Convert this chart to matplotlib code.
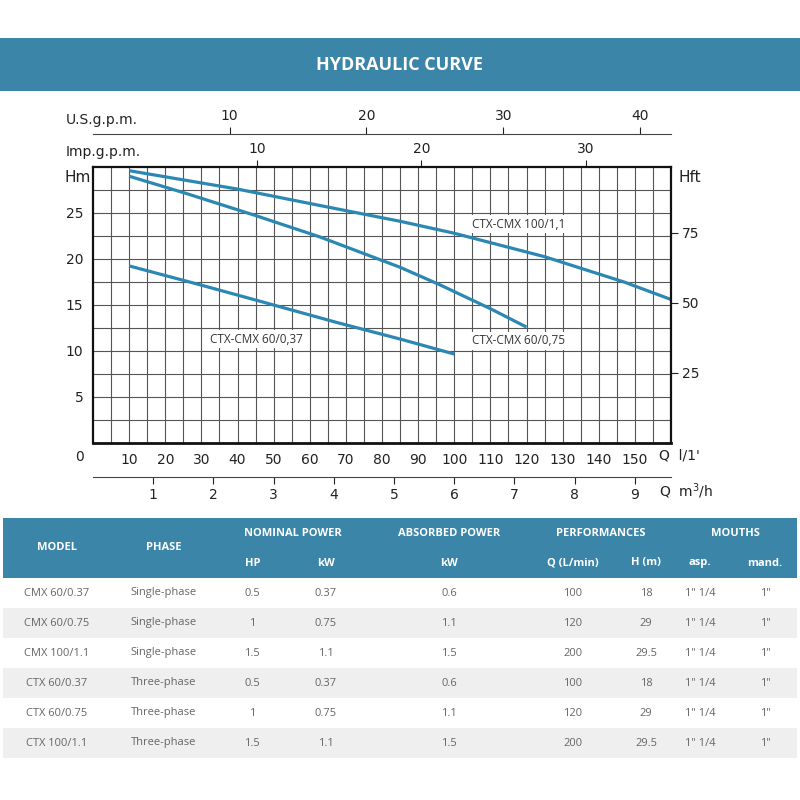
import numpy as np
import matplotlib
matplotlib.use("Agg")
import matplotlib.pyplot as plt
from matplotlib.patches import Rectangle

# curve data (Q in l/min, H in m)
q_100 = [10, 40, 63, 85, 100, 125, 147, 160]
h_100 = [29.6, 27.6, 25.8, 24.1, 22.8, 20.25, 17.5, 15.6]
q_075 = [10, 26, 44.4, 62.8, 85, 96, 110, 120]
h_075 = [29.0, 27.1, 24.8, 22.4, 19.1, 17.2, 14.6, 12.6]
q_037 = [10, 29.6, 50, 67.5, 85, 100]
h_037 = [19.25, 17.2, 15.0, 13.1, 11.3, 9.67]

# table
models = ["CMX 60/0.37", "CMX 60/0.75", "CMX 100/1.1", "CTX 60/0.37", "CTX 60/0.75", "CTX 100/1.1"]
phases = ["Single-phase"] * 3 + ["Three-phase"] * 3
hp = ["0.5", "1", "1.5", "0.5", "1", "1.5"]
kw_nom = ["0.37", "0.75", "1.1", "0.37", "0.75", "1.1"]
kw_abs = ["0.6", "1.1", "1.5", "0.6", "1.1", "1.5"]
q_perf = ["100", "120", "200", "100", "120", "200"]
h_perf = ["18", "29", "29.5", "18", "29", "29.5"]
asp = ['1" 1/4'] * 6
mand = ['1"'] * 6

BLUE = "#3b85a8"
CURVE = "#2b88b3"
W, H = 800, 800

fig = plt.figure(figsize=(8, 8), dpi=100)
fig.patch.set_facecolor("white")


def fx(px):
    return px / W


def fy(py):
    return 1 - py / H


# banner
fig.patches.append(Rectangle((0, fy(91)), 1, (91 - 38) / H, transform=fig.transFigure,
                             facecolor=BLUE, edgecolor="none"))
fig.text(0.5, fy(65), "HYDRAULIC CURVE", color="white", fontsize=13, fontweight="bold",
         family="Open Sans", ha="center", va="center")

# main chart
L, R, T, B = 93, 671, 167, 443
ax = fig.add_axes([fx(L), fy(B), (R - L) / W, (B - T) / H])
for q, h in ((q_100, h_100), (q_075, h_075), (q_037, h_037)):
    ax.plot(q, h, color=CURVE, lw=2.3, solid_capstyle="butt", solid_joinstyle="round", zorder=3)
ax.set_xlim(0, 160)
ax.set_ylim(0, 30)
ax.set_xticks(np.arange(10, 151, 10))
ax.set_xticks(np.arange(5, 160, 5), minor=True)
ax.set_yticks(np.arange(5, 26, 5))
ax.set_yticks(np.arange(2.5, 30, 2.5), minor=True)
ax.grid(True, which="both", color="#555555", lw=0.8)
ax.tick_params(which="both", length=0, labelsize=10, pad=7, colors="#222222")
for s in ax.spines.values():
    s.set_linewidth(1.6)
    s.set_color("#111111")
    s.set_zorder(4)
ax.spines["bottom"].set_linewidth(2.0)

bbox = dict(facecolor="white", edgecolor="none", pad=1.5)
lab = dict(fontsize=8.5, color="#333333", va="center", family="Open Sans", bbox=bbox, zorder=5)
ax.text(105, 23.8, "CTX-CMX 100/1,1", **lab)
ax.text(105, 11.1, "CTX-CMX 60/0,75", **lab)
ax.text(32.4, 11.3, "CTX-CMX 60/0,37", **lab)

# secondary scales
imp = ax.secondary_xaxis("top", functions=(lambda q: q / 4.54609, lambda g: g * 4.54609))
imp.set_xticks([10, 20, 30])
us = ax.secondary_xaxis(1.12, functions=(lambda q: q / 3.78541, lambda g: g * 3.78541))
us.set_xticks([10, 20, 30, 40])
m3h = ax.secondary_xaxis(-0.123, functions=(lambda q: q * 0.06, lambda m: m / 0.06))
m3h.set_xticks(range(1, 10))
ft = ax.secondary_yaxis("right", functions=(lambda m: m * 3.28084, lambda f: f / 3.28084))
ft.set_yticks([25, 50, 75])
for sa in (imp, us, m3h, ft):
    sa.tick_params(length=5, width=0.8, labelsize=10, pad=3, colors="#222222")
    for s in sa.spines.values():
        s.set_linewidth(0.8)
        s.set_color("#444444")
imp.spines["top"].set_visible(False)
ft.spines["right"].set_visible(False)

txt = dict(fontsize=10, color="#222222", va="center")
fig.text(fx(66), fy(120), "U.S.g.p.m.", ha="left", **txt)
fig.text(fx(66), fy(152), "Imp.g.p.m.", ha="left", **txt)
fig.text(fx(65), fy(177), "Hm", ha="left", fontsize=11, color="#222222", va="center")
fig.text(fx(679), fy(177), "Hft", ha="left", fontsize=11, color="#222222", va="center")
fig.text(fx(80), fy(457), "0", ha="center", **txt)
fig.text(fx(659), fy(456), "Q  l/1'", ha="left", **txt)
fig.text(fx(659), fy(491), "Q  m$^3$/h", ha="left", **txt)

# table
tx0, tx1 = 3, 797
hy0, hy1 = 518, 578
row_h = 30
fig.patches.append(Rectangle((fx(tx0), fy(hy1)), (tx1 - tx0) / W, (hy1 - hy0) / H,
                             transform=fig.transFigure, facecolor=BLUE, edgecolor="none"))
for i in range(len(models)):
    top = hy1 + i * row_h
    col = "white" if i % 2 == 0 else "#efefef"
    fig.patches.append(Rectangle((fx(tx0), fy(top + row_h)), (tx1 - tx0) / W, row_h / H,
                                 transform=fig.transFigure, facecolor=col, edgecolor="none"))

hdr = dict(color="white", fontsize=8, fontweight="bold", family="Open Sans", ha="center", va="center")
fig.text(fx(57), fy(548), "MODEL", **hdr)
fig.text(fx(164), fy(548), "PHASE", **hdr)
fig.text(fx(293), fy(534), "NOMINAL POWER", **hdr)
fig.text(fx(449), fy(534), "ABSORBED POWER", **hdr)
fig.text(fx(601), fy(534), "PERFORMANCES", **hdr)
fig.text(fx(735), fy(534), "MOUTHS", **hdr)
sub_x = [253, 326, 449, 573, 646, 700, 765]
sub_lbl = ["HP", "kW", "kW", "Q (L/min)", "H (m)", "asp.", "mand."]
for x, s in zip(sub_x, sub_lbl):
    fig.text(fx(x), fy(563), s, **hdr)

cols = [models, phases, hp, kw_nom, kw_abs, q_perf, h_perf, asp, mand]
col_x = [57, 164, 252, 326, 449, 573, 646, 700, 765]
cell = dict(color="#666666", fontsize=8, family="Open Sans", ha="center", va="center")
for x, vals in zip(col_x, cols):
    for i, v in enumerate(vals):
        fig.text(fx(x), fy(hy1 + i * row_h + row_h / 2), v, **cell)

fig.savefig("out.png", dpi=100, facecolor="white")
